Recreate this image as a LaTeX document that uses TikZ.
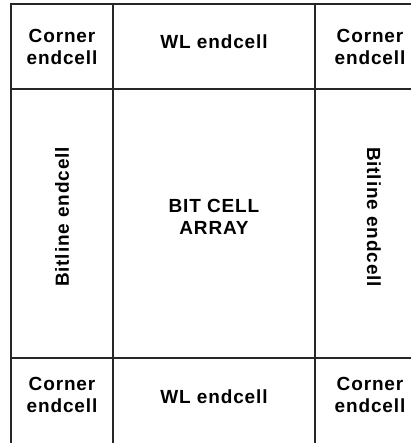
\documentclass[tikz,border=0pt]{standalone}
\usepackage{fontspec}
\setmainfont{Liberation Sans}[LetterSpace=4.5]
\begin{document}
\begin{tikzpicture}[x=1pt, y=-1pt,
    every node/.style={font=\bfseries\fontsize{19}{22}\selectfont, align=center, inner sep=0pt},
    grid line/.style={line width=2.2pt, black!85}]

    % frame of the picture
    \useasboundingbox (0, 0) rectangle (411, 443);
    \fill[white] (0, 0) rectangle (411, 443);

    % cell boundaries (right and bottom edge are cut off)
    \draw[grid line] (11, 443) -- (11, 4) -- (411, 4);
    \draw[grid line] (113, 4) -- (113, 443);
    \draw[grid line] (315, 4) -- (315, 443);
    \draw[grid line] (11, 89) -- (411, 89);
    \draw[grid line] (11, 358) -- (411, 358);

    % corner cells
    \node (cornerTL) at (62, 46.5) {Corner\\endcell};
    \node (cornerTR) at (370, 46.5) {Corner\\endcell};
    \node (cornerBL) at (62, 395) {Corner\\endcell};
    \node (cornerBR) at (370, 395) {Corner\\endcell};

    % word line end cells
    \node (wlTop) at (214, 42) {WL endcell};
    \node (wlBot) at (214, 397) {WL endcell};

    % bit line end cells
    \node[rotate=90] (blLeft) at (62, 217) {Bitline endcell};
    \node[rotate=-90] (blRight) at (374, 217) {Bitline endcell};

    % array in the middle
    \node (array) at (214, 217) {BIT CELL\\ARRAY};

  \end{tikzpicture}
\end{document}
